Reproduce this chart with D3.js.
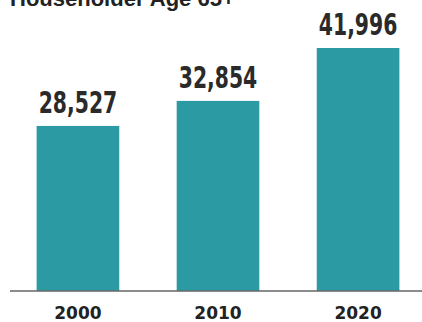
<!DOCTYPE html>
<html>
<head>
<meta charset="utf-8">
<script src="https://cdn.jsdelivr.net/npm/d3@7"></script>
<style>
  html, body { margin: 0; padding: 0; background: #fff; }
  svg { display: block; }
</style>
</head>
<body>
<svg id="chart" width="422" height="322"></svg>
<script>
// Households headed by someone aged 65 or older, by census year
const years = ["2000", "2010", "2020"];
const households = [28527, 32854, 41996];
const title = "Householder Age 65+";

const W = 422, H = 322;
const baseline = 291;
const svg = d3.select("#chart");

const x = d3.scaleBand()
  .domain(years)
  .range([10, 426])
  .paddingInner(0.41)
  .paddingOuter(0.19);

const y = d3.scaleLinear()
  .domain([0, 41996])
  .range([baseline, 48]);

// title (runs off the top edge)
svg.append("text")
  .attr("x", 10)
  .attr("y", 6)
  .attr("font-family", "Liberation Sans, Arial, sans-serif")
  .attr("font-weight", 700)
  .attr("font-size", 22)
  .attr("fill", "#222")
  .text(title);

const data = years.map((yr, i) => ({ yr, v: households[i] }));

svg.append("g")
  .selectAll("rect")
  .data(data)
  .join("rect")
  .attr("x", d => x(d.yr))
  .attr("y", d => y(d.v))
  .attr("width", x.bandwidth())
  .attr("height", d => baseline - y(d.v))
  .attr("fill", "#2b9aa2");

// value labels in a condensed face above each bar
const fmt = d3.format(",");
svg.append("g")
  .selectAll("text")
  .data(data)
  .join("text")
  .attr("transform", d => `translate(${x(d.yr) + x.bandwidth() / 2},${y(d.v) - 13}) scale(0.73,1)`)
  .attr("text-anchor", "middle")
  .attr("font-family", "Liberation Sans Narrow, DejaVu Sans Condensed, sans-serif")
  .attr("font-weight", 700)
  .attr("font-size", 31)
  .attr("fill", "#2a2a2a")
  .text(d => fmt(d.v));

// baseline axis
const axis = d3.axisBottom(x).tickSize(0).tickPadding(0);
const gx = svg.append("g")
  .attr("transform", `translate(0,${baseline})`)
  .call(axis);
gx.select(".domain")
  .attr("d", `M10,0H${W}`)
  .attr("stroke", "#666")
  .attr("stroke-width", 1.5);
gx.selectAll(".tick text")
  .attr("y", 28)
  .attr("dy", 0)
  .attr("font-family", "DejaVu Sans, sans-serif")
  .attr("font-weight", 700)
  .attr("font-size", 17)
  .attr("fill", "#222");
</script>
</body>
</html>
